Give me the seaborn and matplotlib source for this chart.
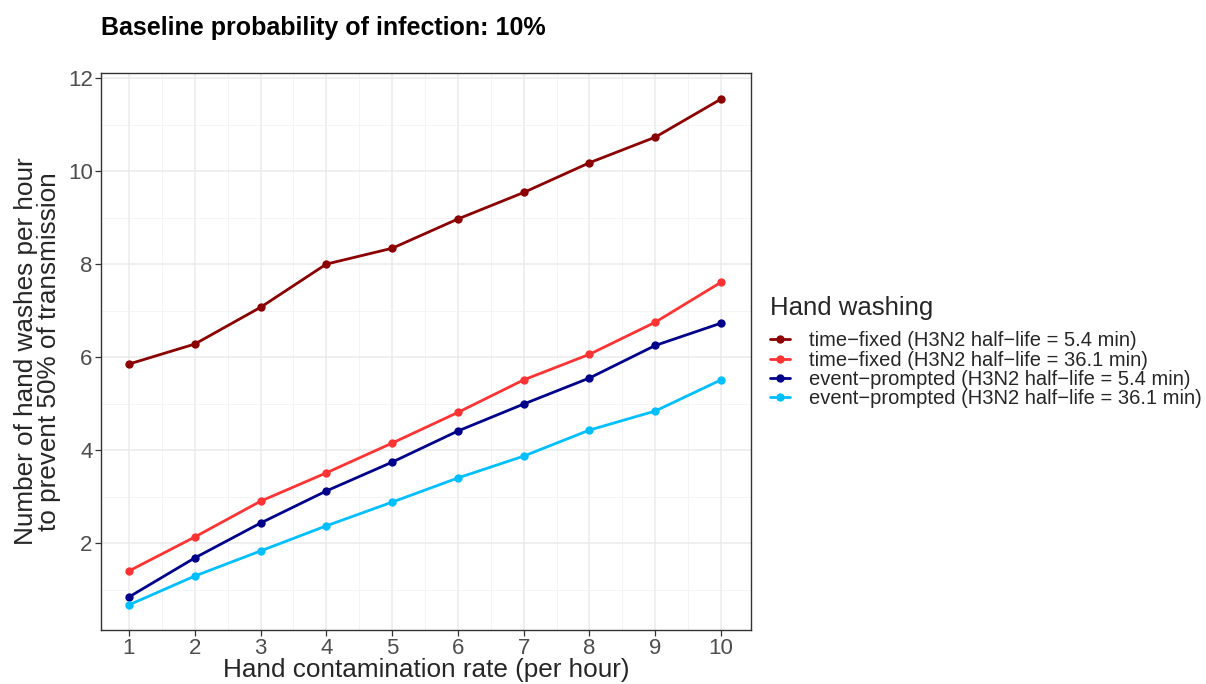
import pandas as pd
import seaborn as sns
import matplotlib.pyplot as plt
from matplotlib.lines import Line2D
from matplotlib.ticker import MultipleLocator

# datos
contam_rate = [1, 2, 3, 4, 5, 6, 7, 8, 9, 10]
fixed_5_4 = [5.85, 6.28, 7.07, 8.00, 8.34, 8.97, 9.54, 10.18, 10.73, 11.55]
fixed_36_1 = [1.40, 2.13, 2.90, 3.51, 4.15, 4.81, 5.51, 6.06, 6.75, 7.61]
event_5_4 = [0.84, 1.68, 2.43, 3.12, 3.74, 4.41, 4.99, 5.55, 6.25, 6.73]
event_36_1 = [0.67, 1.29, 1.83, 2.37, 2.88, 3.40, 3.87, 4.43, 4.84, 5.51]

labels = [
    "time\u2212fixed (H3N2 half\u2212life = 5.4 min)",
    "time\u2212fixed (H3N2 half\u2212life = 36.1 min)",
    "event\u2212prompted (H3N2 half\u2212life = 5.4 min)",
    "event\u2212prompted (H3N2 half\u2212life = 36.1 min)",
]
colores = ["#8B0000", "#FF3333", "#00008B", "#00BFFF"]

df = pd.DataFrame({
    'rate': contam_rate * 4,
    'washes': fixed_5_4 + fixed_36_1 + event_5_4 + event_36_1,
    'tipo': [l for l in labels for _ in contam_rate],
})

sns.set_style("white")
plt.rcParams['font.family'] = ['Liberation Sans', 'DejaVu Sans']

fig = plt.figure(figsize=(12.06, 6.84), dpi=100)
ax = fig.add_axes([101 / 1206, 1 - 630 / 684, 650 / 1206, 557 / 684])

sns.lineplot(data=df, x='rate', y='washes', hue='tipo', hue_order=labels,
             palette=colores, linewidth=2.0, marker='o', markersize=6,
             markeredgewidth=0, legend=False, ax=ax)

ax.set_xlim(0.575, 10.455)
ax.set_ylim(0.13, 12.11)
ax.set_xticks(contam_rate)
ax.set_yticks([2, 4, 6, 8, 10, 12])
ax.xaxis.set_minor_locator(MultipleLocator(0.5))
ax.yaxis.set_minor_locator(MultipleLocator(1))
ax.grid(True, which='major', color='#EBEBEB', linewidth=1.1)
ax.grid(True, which='minor', color='#F2F2F2', linewidth=0.6)
ax.set_axisbelow(True)
for s in ax.spines.values():
    s.set_color('#333333')
    s.set_linewidth(1.0)
ax.tick_params(which='major', direction='out', length=4, width=0.9,
               color='#333333', labelsize=16, labelcolor='#4D4D4D',
               bottom=True, left=True, pad=2)
ax.tick_params(which='minor', length=0)

ax.set_xlabel("Hand contamination rate (per hour)", fontsize=18.8, labelpad=-1)
ax.set_ylabel("Number of hand washes per hour\nto prevent 50% of transmission",
              fontsize=18.8, labelpad=5, linespacing=0.95)

fig.text(101 / 1206, 1 - 28 / 684, "Baseline probability of infection: 10%",
         fontsize=18, fontweight='bold', va='center', ha='left', color='black')

handles = [Line2D([], [], color=c, linewidth=2.0, marker='o', markersize=6,
                  markeredgewidth=0) for c in colores]
leg = fig.legend(handles, labels, title="Hand washing", loc='upper left',
                 bbox_to_anchor=(762 / 1206, 1 - 288 / 684), frameon=False,
                 fontsize=14.5, title_fontsize=18.5, handlelength=1.0,
                 handletextpad=0.95, labelspacing=0.02, borderaxespad=0)
leg._legend_box.align = "left"
leg._legend_box.sep = 8

fig.savefig('out.png', dpi=100)
